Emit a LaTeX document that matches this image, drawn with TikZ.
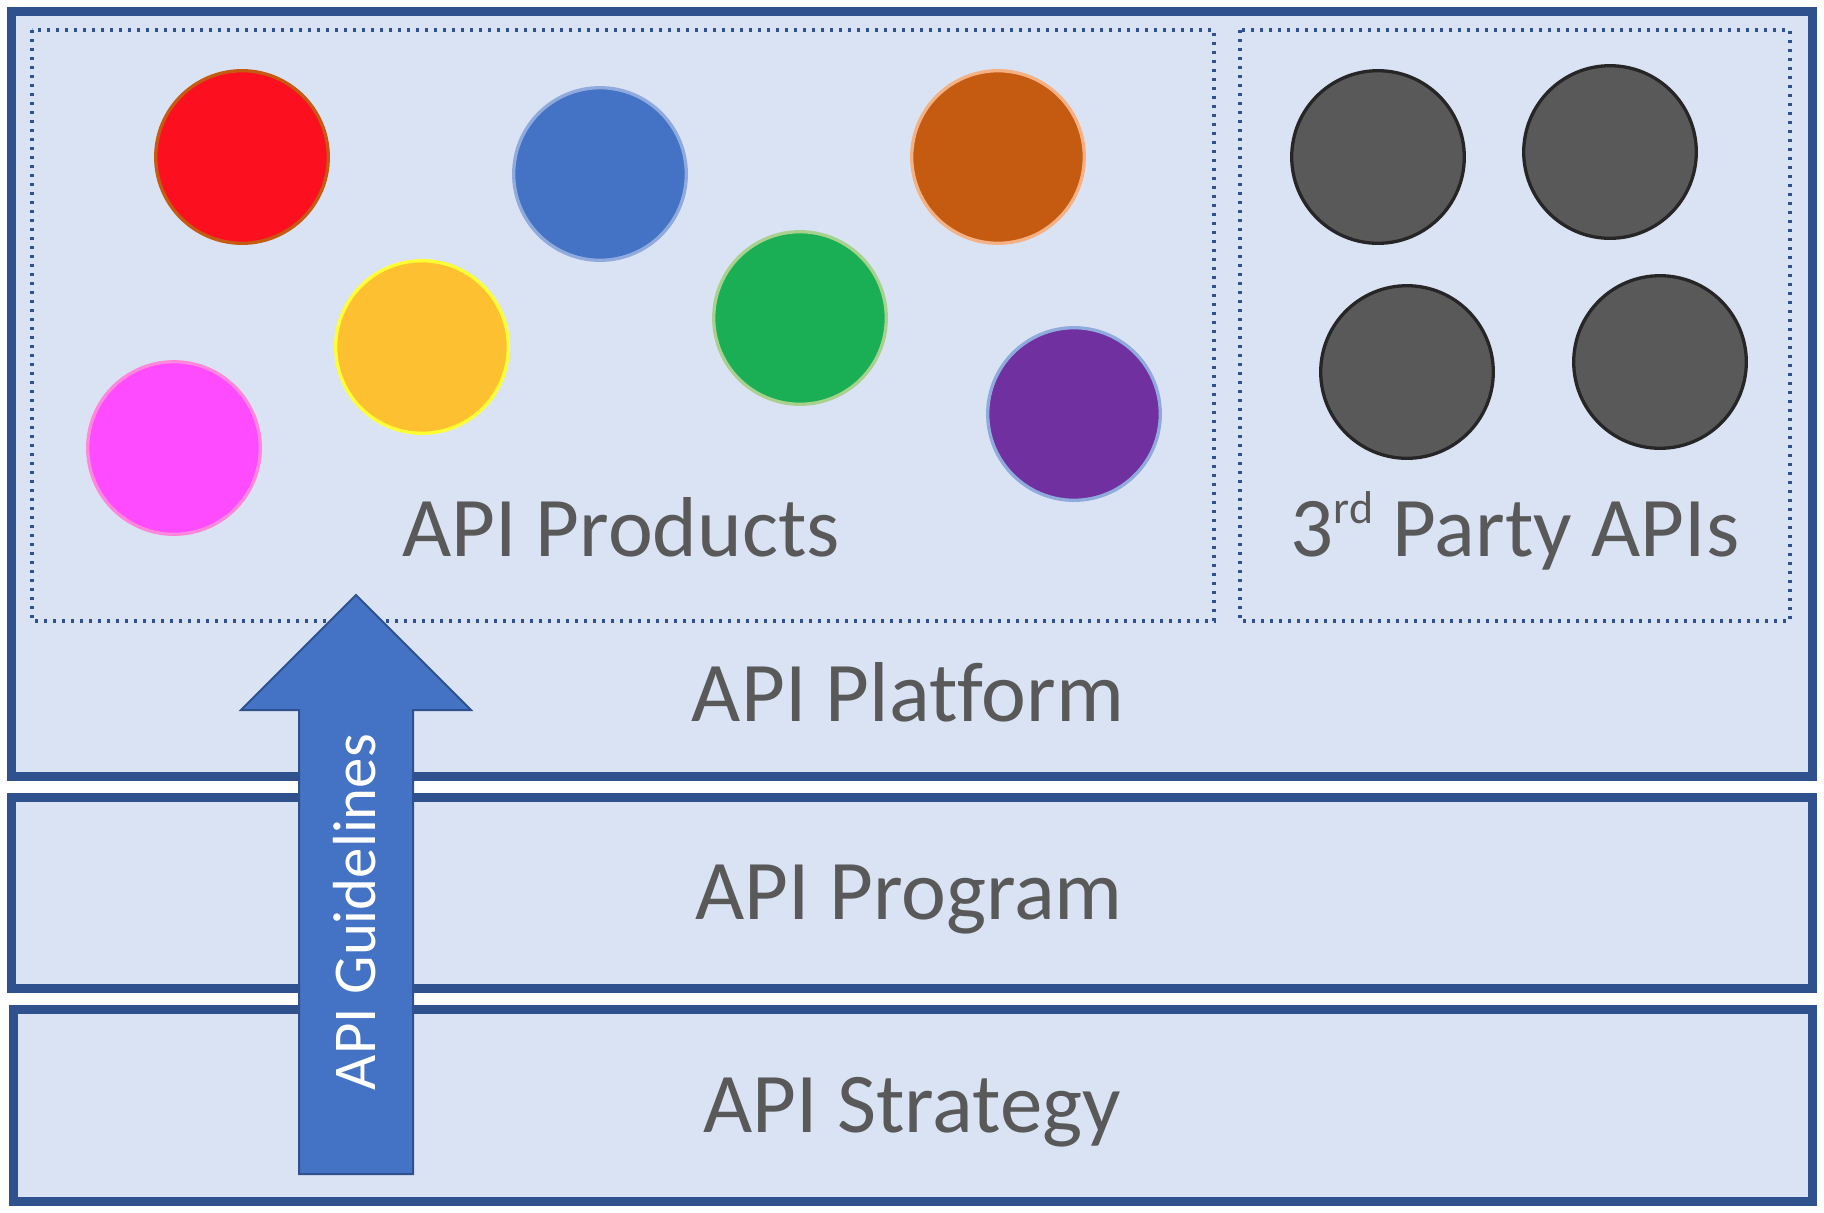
\documentclass[tikz,border=0pt]{standalone}
\usepackage{fontspec}
\setmainfont{Carlito}[Ligatures=NoCommon]
\definecolor{boxfill}{HTML}{DAE3F3}
\definecolor{boxline}{HTML}{2F528F}
\definecolor{txtgray}{HTML}{595959}
\definecolor{arrowfill}{HTML}{4472C4}
\definecolor{cred}{HTML}{FC101F}
\definecolor{credb}{HTML}{C55A11}
\definecolor{corange}{HTML}{C55A11}
\definecolor{corangeb}{HTML}{F4B183}
\definecolor{cblue}{HTML}{4472C4}
\definecolor{cblueb}{HTML}{8FAADC}
\definecolor{cgreen}{HTML}{1AAF54}
\definecolor{cgreenb}{HTML}{A9D18E}
\definecolor{cpurple}{HTML}{7030A0}
\definecolor{cyellow}{HTML}{FDC030}
\definecolor{cyellowb}{HTML}{FFFF33}
\definecolor{cmagenta}{HTML}{FF4BFF}
\definecolor{cmagentab}{HTML}{FF88DD}
\definecolor{cgray}{HTML}{595959}
\definecolor{cgrayb}{HTML}{262626}
\begin{document}
\begin{tikzpicture}[x=0.5pt,y=-0.5pt,
  layerbox/.style={draw=boxline, fill=boxfill, line width=4.5pt},
  dotbox/.style={draw=boxline, line width=1.7pt, dash pattern=on 1.6pt off 2.9pt},
  ball/.style={circle, inner sep=0pt, outer sep=0pt, minimum size=86.3pt, line width=1.65pt},
  lbl/.style={inner sep=0pt, anchor=base, text=txtgray, font=\fontsize{42.5}{51}\selectfont},
  guidelbl/.style={inner sep=0pt, anchor=base, rotate=90, text=white, font=\fontsize{30.4}{36}\selectfont},
  bigarrow/.style={draw=boxline, fill=arrowfill, line width=1pt, line join=miter}
]
\useasboundingbox (0,0) rectangle (1824,1212);

% API Platform layer
\draw[layerbox] (11,11) rectangle (1812,776.5);
\draw[dotbox] (32,30) rectangle (1214,621);
\draw[dotbox] (1240,30) rectangle (1790,621);

% API product circles
\node[ball, fill=cred, draw=credb] (red) at (242,157) {};
\node[ball, fill=cblue, draw=cblueb] (blue) at (600,174) {};
\node[ball, fill=corange, draw=corangeb] (orange) at (998,157) {};
\node[ball, fill=cyellow, draw=cyellowb] (yellow) at (422,347) {};
\node[ball, fill=cgreen, draw=cgreenb] (green) at (800,318) {};
\node[ball, fill=cmagenta, draw=cmagentab] (magenta) at (174,448) {};
\node[ball, fill=cpurple, draw=cblueb] (purple) at (1074,414) {};

% 3rd party circles
\node[ball, fill=cgray, draw=cgrayb] (g1) at (1378,157) {};
\node[ball, fill=cgray, draw=cgrayb] (g2) at (1610,152) {};
\node[ball, fill=cgray, draw=cgrayb] (g3) at (1407,372) {};
\node[ball, fill=cgray, draw=cgrayb] (g4) at (1660,362) {};

\node[lbl] (products) at (621,556) {API Products};
\node[lbl] (thirdparty) at (1515,556) {3\raisebox{16.5pt}{\fontsize{23}{23}\selectfont rd} Party APIs};
\node[lbl] (platform) at (908,721.7) {API Platform};

% API Program layer
\draw[layerbox] (11,797) rectangle (1812,988.5);
\node[lbl] (program) at (909,919.3) {API Program};

% API Strategy layer
\draw[layerbox] (13,1009) rectangle (1812,1201);
\node[lbl] (strategy) at (912,1132.7) {API Strategy};

% API Guidelines arrow
\draw[bigarrow] (356,595) -- (471,710) -- (413,710) -- (413,1174) -- (299,1174) -- (299,710) -- (241,710) -- cycle;
\node[guidelbl] (guidelines) at (375,912) {API Guidelines};
\end{tikzpicture}
\end{document}
